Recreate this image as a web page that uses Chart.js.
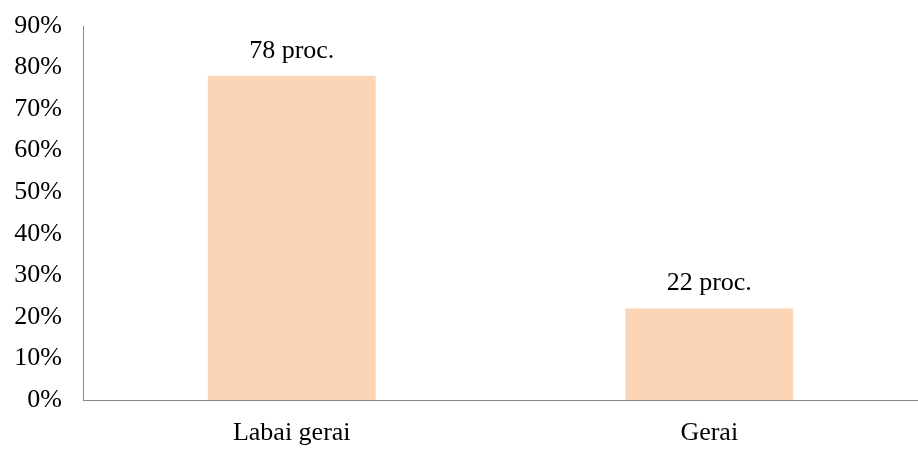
<!DOCTYPE html>
<html>
<head>
<meta charset="utf-8">
<script src="https://cdn.jsdelivr.net/npm/chart.js@4"></script>
<style>
  body { margin: 0; background: #fff; }
</style>
</head>
<body>
<canvas id="myChart" width="918" height="458"></canvas>
<script>
const categories = ["Labai gerai", "Gerai"];
const values = [78, 22];
const valueLabels = ["78 proc.", "22 proc."];

const font = { family: "'Liberation Serif', 'Times New Roman', serif", size: 26 };

// piesia uzrasus virs stulpeliu
const labelPlugin = {
  id: "barLabels",
  afterDatasetsDraw(chart) {
    const ctx = chart.ctx;
    const meta = chart.getDatasetMeta(0);
    ctx.save();
    ctx.font = font.size + "px " + font.family;
    ctx.fillStyle = "#000";
    ctx.textAlign = "center";
    ctx.textBaseline = "bottom";
    meta.data.forEach((bar, i) => {
      ctx.fillText(valueLabels[i], bar.x, bar.y - 12);
    });
    ctx.restore();
  }
};

const data = {
  labels: categories,
  datasets: [
    {
      data: values,
      backgroundColor: "#FBD5B5",
      borderWidth: 0,
      barPercentage: 0.402,
      categoryPercentage: 1,
    },
  ],
};

const options = {
  responsive: false,
  animation: false,
  layout: { padding: { top: 25, right: 0, left: 0, bottom: 0 } },
  plugins: { legend: { display: false }, tooltip: { enabled: false } },
  scales: {
    x: {
      grid: { display: false },
      border: { display: true, color: "#888888", width: 1 },
      ticks: { color: "#000", font: font, padding: 10 },
      afterFit(axis) { axis.height = 58; },
    },
    y: {
      min: 0,
      max: 90,
      grid: { display: false },
      border: { display: true, color: "#888888", width: 1 },
      ticks: {
        stepSize: 10,
        color: "#000",
        font: { family: font.family, size: font.size, lineHeight: 1 },
        padding: 13,
        callback: (v) => v + "%",
      },
      afterFit(axis) { axis.width = 83; },
    },
  },
};

const myChart = new Chart(document.getElementById("myChart"), {
  type: "bar",
  data: data,
  options: options,
  plugins: [labelPlugin],
});
</script>
</body>
</html>
